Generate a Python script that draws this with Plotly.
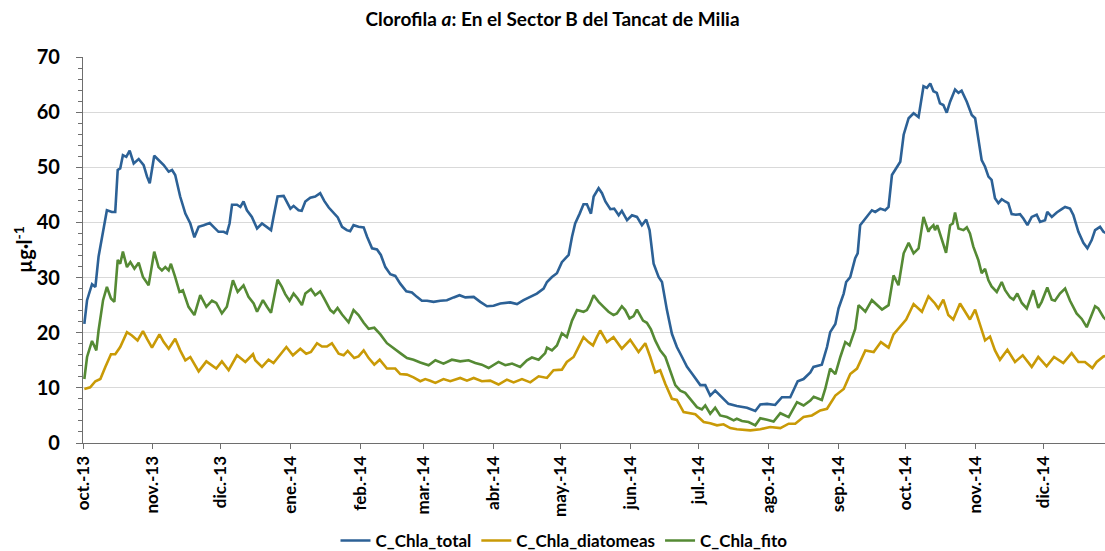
import pandas as pd
import plotly.graph_objects as go

# ---- data: (days since 2013-10-01, value µg·l-1) ----
START = "2013-10-01"

chla_total = [
    (0.6, 21.6), (1.8, 25.9), (4.0, 28.8), (5.5, 28.3), (6.9, 33.8), (8.9, 38.6), (10.6, 42.2),
    (12.8, 41.9), (14.3, 41.9), (15.4, 49.5), (16.5, 49.8), (17.7, 52.2), (19.2, 51.9), (20.7, 53.0),
    (22.5, 50.7), (24.7, 51.5), (26.9, 50.4), (28.4, 48.3), (29.6, 47.1), (31.6, 52.1), (33.5, 51.3),
    (35.8, 50.4), (38.0, 49.2), (39.5, 49.5), (40.9, 48.6), (43.1, 44.7), (45.4, 41.6), (47.6, 39.8),
    (49.4, 37.3), (51.3, 39.2), (53.5, 39.5), (56.2, 39.9), (57.9, 39.2), (60.1, 38.3), (62.4, 38.3),
    (63.8, 38.0), (65.0, 39.8), (66.1, 43.2), (68.3, 43.2), (69.8, 42.8), (71.2, 43.8), (72.7, 42.2),
    (74.9, 41.0), (77.2, 38.9), (79.4, 39.8), (81.6, 39.2), (83.4, 38.6), (84.5, 41.0), (86.3, 44.7),
    (89.0, 44.8), (90.5, 43.5), (92.0, 42.5), (93.4, 43.0), (95.6, 42.2), (97.0, 42.1), (98.6, 43.8),
    (100.8, 44.5), (103.0, 44.7), (105.2, 45.3), (107.0, 43.9), (109.0, 42.7), (111.2, 41.6),
    (113.0, 40.9), (114.9, 39.2), (117.0, 38.6), (118.5, 38.4), (120.0, 39.5), (122.2, 39.2),
    (124.5, 39.1), (126.0, 37.4), (128.2, 35.3), (130.4, 35.1), (132.1, 34.1), (134.1, 31.9),
    (136.3, 30.6), (138.5, 30.3), (140.7, 28.9), (143.4, 27.5), (145.9, 27.3), (148.1, 26.5),
    (150.3, 25.8), (152.6, 25.8), (155.5, 25.6), (158.5, 25.8), (161.4, 25.9), (164.4, 26.4),
    (167.0, 26.8), (169.6, 26.4), (173.3, 26.5), (176.2, 25.6), (179.2, 24.8), (182.1, 24.9),
    (185.1, 25.3), (189.5, 25.5), (192.5, 25.2), (195.4, 25.9), (198.4, 26.5), (201.3, 27.1),
    (204.3, 28.0), (205.8, 29.2), (208.0, 30.1), (210.2, 30.8), (212.4, 32.8), (215.4, 34.1),
    (216.9, 37.4), (218.3, 39.8), (220.3, 41.6), (222.0, 43.3), (223.5, 43.3), (225.3, 41.6),
    (226.5, 44.7), (228.7, 46.2), (230.2, 45.3), (231.7, 43.8), (233.9, 42.4), (235.6, 42.5),
    (237.6, 41.3), (239.0, 42.1), (241.3, 40.4), (243.5, 41.3), (245.7, 41.0), (247.9, 39.5),
    (249.8, 40.5), (251.3, 38.6), (253.1, 32.5), (255.3, 30.1), (256.8, 29.2), (259.0, 24.1),
    (261.2, 19.8), (263.4, 17.4), (265.7, 15.6), (267.9, 13.8), (270.1, 12.6), (273.8, 10.5),
    (276.0, 10.5), (278.2, 8.6), (280.4, 9.5), (283.4, 8.3), (286.3, 7.1), (290.0, 6.7),
    (292.3, 6.6), (294.5, 6.4), (298.2, 5.8), (300.4, 7.0), (303.4, 7.1), (307.0, 6.9),
    (310.0, 8.3), (313.7, 8.3), (317.0, 11.2), (319.6, 11.6), (322.6, 12.8), (324.0, 13.8),
    (327.7, 14.2), (330.0, 17.4), (331.4, 20.1), (333.7, 21.6), (335.1, 24.4), (337.4, 27.1),
    (338.5, 29.2), (340.3, 30.1), (342.5, 33.5), (343.6, 34.4), (344.7, 39.5), (347.7, 41.0),
    (349.9, 42.2), (351.4, 41.9), (353.6, 42.5), (355.8, 42.2), (357.3, 42.8), (358.8, 48.6),
    (361.0, 50.1), (362.5, 51.0), (364.0, 55.9), (366.2, 58.9), (368.4, 59.8), (370.6, 59.1),
    (372.8, 64.7), (374.3, 64.4), (375.8, 65.2), (377.2, 63.8), (378.7, 63.5), (380.1, 61.6),
    (381.6, 61.3), (383.1, 59.9), (384.6, 61.9), (386.8, 64.1), (388.3, 63.5), (389.7, 63.9),
    (392.0, 61.9), (394.2, 59.5), (395.7, 58.9), (397.1, 55.3), (398.6, 51.3), (400.1, 50.1),
    (401.6, 48.3), (403.0, 47.7), (404.5, 44.4), (406.0, 43.5), (407.5, 44.2), (409.0, 43.8),
    (410.4, 43.5), (411.9, 41.5), (413.8, 41.4), (415.6, 41.5), (417.1, 40.7), (418.9, 39.5),
    (420.8, 41.0), (423.0, 41.4), (424.5, 40.1), (426.7, 40.4), (427.7, 41.9), (429.7, 41.0),
    (431.9, 41.8), (434.1, 42.4), (435.6, 42.8), (437.8, 42.5), (439.3, 41.3), (441.5, 38.3),
    (443.7, 36.3), (445.5, 35.3), (447.4, 36.8), (448.9, 38.6), (451.1, 39.2), (452.6, 38.3),
    (454.0, 38.0),
]

chla_diatomeas = [
    (0.6, 9.8), (3.2, 10.1), (5.5, 11.2), (7.7, 11.6), (9.9, 13.8), (12.4, 16.1), (14.3, 16.1),
    (16.5, 17.4), (19.5, 20.1), (21.7, 19.5), (24.2, 18.6), (26.6, 20.3), (28.4, 18.9), (30.6, 17.3),
    (33.9, 19.7), (35.8, 18.3), (38.0, 17.1), (40.9, 18.9), (43.1, 16.8), (45.4, 15.0), (47.6, 15.6),
    (51.3, 13.0), (54.7, 14.8), (56.8, 14.1), (59.1, 13.5), (61.6, 14.8), (64.6, 13.2), (68.3, 15.9),
    (72.0, 14.7), (75.4, 16.1), (76.4, 15.0), (79.4, 13.8), (82.3, 15.1), (84.5, 14.5), (86.8, 15.6),
    (90.2, 17.4), (93.1, 15.9), (96.4, 17.1), (99.0, 16.2), (101.1, 16.5), (103.8, 18.1),
    (106.0, 17.5), (108.2, 17.5), (110.4, 18.1), (113.4, 16.2), (115.6, 15.9), (117.4, 16.7),
    (120.3, 15.4), (122.2, 15.7), (124.5, 16.8), (126.7, 15.4), (129.2, 14.2), (131.6, 15.1),
    (134.8, 13.5), (138.5, 13.5), (140.7, 12.5), (143.7, 12.4), (146.6, 11.9), (149.6, 11.2),
    (151.8, 11.6), (154.0, 11.3), (156.3, 10.9), (159.9, 11.6), (162.9, 11.2), (167.3, 11.8),
    (170.3, 11.3), (173.3, 11.8), (176.9, 11.2), (180.6, 11.3), (184.3, 10.6), (188.0, 11.5),
    (191.0, 11.0), (194.7, 11.6), (198.4, 11.0), (202.1, 12.1), (205.8, 11.8), (208.7, 13.2),
    (212.4, 13.3), (214.6, 14.7), (217.6, 15.6), (219.8, 17.4), (222.0, 19.2), (224.2, 18.3),
    (226.2, 17.7), (227.9, 19.2), (229.4, 20.4), (232.4, 18.3), (235.3, 19.2), (239.0, 17.1),
    (242.7, 18.7), (246.4, 16.5), (249.4, 18.1), (251.6, 15.6), (253.8, 12.8), (256.0, 13.2),
    (258.3, 10.7), (261.2, 8.0), (263.4, 7.8), (266.4, 5.6), (269.3, 5.3), (271.6, 5.2),
    (275.3, 3.8), (278.2, 3.6), (281.2, 3.2), (284.1, 3.4), (287.1, 2.7), (290.0, 2.5),
    (296.0, 2.3), (300.4, 2.5), (304.8, 2.9), (306.3, 2.8), (309.3, 2.7), (313.0, 3.5),
    (315.9, 3.5), (319.6, 4.7), (323.3, 5.0), (327.0, 5.9), (330.0, 6.2), (333.7, 8.6),
    (337.4, 9.8), (340.3, 12.5), (343.3, 13.5), (347.0, 16.8), (350.7, 16.5), (353.9, 18.3),
    (357.3, 17.3), (359.5, 19.7), (362.5, 21.2), (365.1, 22.4), (368.4, 25.2), (372.1, 23.8),
    (375.0, 26.6), (377.9, 25.3), (379.4, 24.4), (381.6, 26.0), (383.8, 23.2), (386.0, 22.4),
    (389.0, 25.3), (391.2, 23.9), (393.4, 22.4), (395.7, 24.2), (397.9, 21.6), (400.1, 18.6),
    (402.3, 19.3), (404.5, 16.8), (406.7, 15.1), (410.0, 16.9), (413.4, 14.7), (416.8, 15.9),
    (420.8, 13.8), (423.7, 15.6), (427.4, 13.9), (430.7, 15.6), (434.8, 14.5), (438.5, 16.3),
    (441.5, 14.7), (444.4, 14.7), (447.7, 13.6), (449.6, 14.7), (452.6, 15.7), (454.0, 15.8),
]

chla_fito = [
    (0.6, 11.6), (1.8, 15.6), (4.0, 18.5), (5.9, 16.8), (6.9, 20.4), (8.9, 25.9), (10.6, 28.3),
    (12.4, 26.2), (13.9, 25.6), (15.4, 33.2), (16.5, 32.5), (17.7, 34.7), (19.5, 31.9), (21.0, 32.8),
    (22.8, 31.6), (24.7, 32.7), (26.6, 30.1), (29.1, 28.6), (31.6, 34.7), (33.5, 31.9), (35.0, 31.3),
    (36.5, 31.9), (38.0, 31.3), (39.0, 32.5), (40.9, 30.1), (42.8, 27.4), (44.3, 27.7), (46.8, 24.7),
    (49.4, 23.2), (52.0, 26.8), (54.7, 24.7), (57.2, 25.8), (59.1, 25.4), (61.6, 23.5), (63.8, 24.7),
    (66.5, 29.5), (68.6, 27.4), (71.2, 28.6), (73.4, 26.5), (75.7, 25.3), (77.2, 23.8), (79.8, 25.9),
    (81.6, 24.7), (83.4, 23.6), (84.8, 26.5), (86.3, 29.6), (88.2, 28.3), (89.7, 27.0), (91.6, 25.8),
    (93.4, 27.1), (95.2, 26.2), (97.1, 25.0), (98.6, 27.1), (101.1, 27.9), (103.0, 26.8),
    (105.2, 27.5), (107.0, 26.2), (109.7, 24.1), (111.2, 23.6), (112.9, 24.5), (114.9, 23.3),
    (117.8, 21.9), (120.0, 24.1), (122.2, 23.2), (124.5, 21.8), (126.7, 20.7), (129.2, 20.9),
    (131.9, 19.7), (134.8, 18.1), (137.8, 17.1), (140.7, 16.3), (143.7, 15.4), (146.6, 15.1),
    (149.6, 14.6), (153.3, 14.1), (156.3, 15.0), (159.9, 14.4), (163.6, 15.1), (167.3, 14.8),
    (171.0, 15.0), (174.0, 14.5), (176.9, 14.2), (179.9, 13.6), (184.3, 14.7), (187.3, 14.1),
    (190.3, 14.4), (193.9, 13.8), (196.9, 15.0), (199.1, 15.5), (202.1, 15.1), (205.0, 16.3),
    (205.8, 17.3), (208.0, 16.8), (210.2, 17.7), (212.4, 19.9), (214.6, 19.2), (216.9, 22.2),
    (219.1, 24.1), (222.0, 23.8), (223.5, 24.1), (224.7, 25.0), (226.5, 26.8), (228.7, 25.6),
    (230.9, 24.7), (233.1, 23.8), (235.3, 23.2), (236.8, 23.5), (239.0, 24.8), (240.5, 24.1),
    (242.4, 22.6), (244.2, 23.0), (245.7, 24.2), (248.4, 22.2), (250.1, 21.8), (251.9, 20.6),
    (253.8, 18.6), (256.0, 16.8), (258.3, 15.6), (260.5, 13.2), (262.7, 10.5), (264.9, 9.5),
    (267.1, 9.1), (269.3, 8.0), (272.3, 6.5), (274.5, 6.1), (276.0, 6.8), (278.2, 5.3),
    (280.4, 6.4), (282.6, 5.0), (285.6, 4.7), (288.6, 4.1), (290.0, 4.4), (292.3, 4.0),
    (295.2, 3.8), (298.2, 3.2), (300.4, 4.5), (303.4, 4.2), (306.3, 3.9), (309.3, 5.4),
    (313.0, 4.7), (316.7, 7.4), (319.6, 6.8), (322.6, 7.7), (324.1, 8.4), (327.7, 7.8),
    (329.2, 9.8), (331.4, 13.5), (333.7, 12.5), (335.9, 15.6), (338.1, 18.3), (340.0, 17.7),
    (342.5, 20.7), (344.0, 25.0), (347.0, 23.8), (349.9, 25.9), (352.1, 25.0), (354.4, 24.2),
    (357.3, 25.0), (359.5, 30.4), (361.7, 28.6), (364.0, 34.4), (366.2, 36.3), (368.4, 34.4),
    (370.6, 35.3), (372.8, 41.0), (375.0, 38.3), (375.7, 38.9), (377.2, 39.5), (377.9, 38.6),
    (378.9, 39.5), (380.9, 36.8), (382.8, 34.5), (384.6, 39.5), (385.8, 39.8), (386.8, 41.8),
    (388.3, 38.9), (390.5, 38.6), (392.0, 39.1), (393.4, 38.0), (394.9, 35.6), (397.1, 33.2),
    (398.6, 30.8), (400.1, 31.6), (401.6, 29.5), (403.0, 28.4), (405.3, 27.4), (407.5, 29.2),
    (409.0, 27.7), (411.2, 26.4), (412.7, 26.0), (414.4, 27.1), (416.4, 25.4), (418.6, 24.4),
    (421.5, 27.7), (423.7, 24.5), (425.2, 25.6), (427.7, 28.2), (429.7, 26.0), (431.1, 25.8),
    (433.3, 27.1), (435.6, 28.0), (437.8, 25.8), (440.7, 23.5), (443.0, 22.5), (445.2, 21.0),
    (446.7, 22.5), (448.9, 24.8), (450.3, 24.4), (452.6, 22.8), (454.0, 22.3),
]

month_ticks = ["2013-10-01", "2013-11-01", "2013-12-01", "2014-01-01", "2014-02-01",
               "2014-03-01", "2014-04-01", "2014-05-01", "2014-06-01", "2014-07-01",
               "2014-08-01", "2014-09-01", "2014-10-01", "2014-11-01", "2014-12-01"]
month_labels = ["oct.-13", "nov.-13", "dic.-13", "ene.-14", "feb.-14", "mar.-14", "abr.-14",
                "may.-14", "jun.-14", "jul.-14", "ago.-14", "sep.-14", "oct.-14", "nov.-14",
                "dic.-14"]
x_end_days = 453.3

series = [
    ("C_Chla_total", chla_total, "#2C6196"),
    ("C_Chla_diatomeas", chla_diatomeas, "#C99A06"),
    ("C_Chla_fito", chla_fito, "#558A34"),
]

start = pd.Timestamp(START)
FONT = "Lato, 'Open Sans', sans-serif"

W, H = 1105, 551
ML, MT, MB = 83, 57, 108
plot_h = H - MT - MB
plot_w = W - ML

fig = go.Figure()
for name, pts, color in series:
    xs = [start + pd.Timedelta(days=d) for d, _ in pts]
    ys = [v for _, v in pts]
    fig.add_trace(go.Scatter(x=xs, y=ys, mode="lines", name=name,
                             line=dict(color=color, width=2.6)))

fig.update_layout(
    width=W, height=H,
    margin=dict(l=ML, r=0, t=MT, b=MB, autoexpand=False),
    paper_bgcolor="white", plot_bgcolor="white",
    font=dict(family=FONT, color="black"),
    title=dict(text="Clorofila <i>a</i>: En el Sector B del Tancat de Milia",
               x=0.5, xanchor="center", y=1 - 19 / H, yanchor="middle",
               font=dict(size=19, weight="bold", family=FONT)),
    showlegend=True,
    legend=dict(orientation="h", x=(564 - ML) / plot_w, xanchor="center",
                y=-98 / plot_h, yanchor="middle",
                font=dict(size=17, weight="bold"), itemwidth=30, traceorder="normal"),
    xaxis=dict(
        type="date",
        range=[start, start + pd.Timedelta(days=x_end_days)],
        tickvals=month_ticks, ticktext=month_labels, tickangle=-90,
        tickfont=dict(size=17, weight="bold"),
        ticks="outside", ticklen=5, tickcolor="#6e6e6e", tickwidth=1,
        showline=True, linecolor="#6e6e6e", linewidth=1.3,
        showgrid=False, zeroline=False,
    ),
    yaxis=dict(
        range=[0, 70], dtick=10, tick0=0,
        tickfont=dict(size=20, weight="bold"),
        ticks="outside", ticklen=6, tickcolor="#6e6e6e", tickwidth=1,
        ticklabelstandoff=12,
        minor=dict(dtick=2, ticks="outside", ticklen=4, tickcolor="#6e6e6e", showgrid=False),
        showline=True, linecolor="#6e6e6e", linewidth=1.3,
        showgrid=True, gridcolor="#D9D9D9", gridwidth=1, zeroline=False,
    ),
    annotations=[dict(text="µg·l<sup>-1</sup>", xref="paper", yref="paper",
                      x=(23 - ML) / plot_w, y=0.5, xanchor="center", yanchor="middle",
                      textangle=-90, showarrow=False,
                      font=dict(size=20, weight="bold", family=FONT))],
)

# remove the page's default body margin so the figure fills the window exactly
fig.write_html("out.html",
               config={"displayModeBar": False},
               post_script="document.body.style.margin='0';"
                           "document.body.style.overflow='hidden';")
